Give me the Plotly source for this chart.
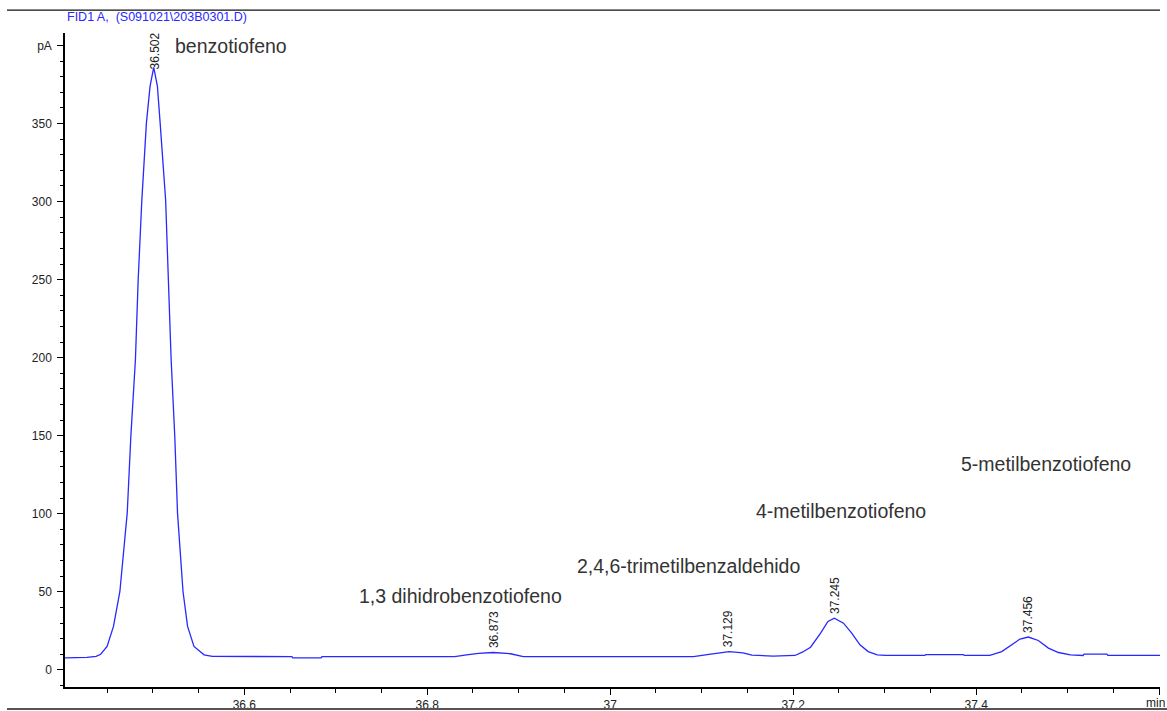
import plotly.graph_objects as go

# Chromatogram trace (time in min, signal in pA)
time_min = [
    36.404, 36.427, 36.428, 36.438, 36.443, 36.450, 36.457, 36.464, 36.472, 36.476,
    36.481, 36.484, 36.488, 36.493, 36.497, 36.501, 36.505, 36.508, 36.514, 36.517,
    36.520, 36.524, 36.527, 36.533, 36.538, 36.545, 36.556, 36.565, 36.652, 36.653,
    36.684, 36.685, 36.830, 36.843, 36.856, 36.872, 36.891, 36.905, 37.091, 37.106,
    37.124, 37.130, 37.145, 37.155, 37.178, 37.202, 37.210, 37.219, 37.230, 37.238,
    37.245, 37.255, 37.264, 37.273, 37.282, 37.292, 37.301, 37.344, 37.345, 37.386,
    37.387, 37.415, 37.428, 37.439, 37.448, 37.457, 37.468, 37.479, 37.490, 37.503,
    37.517, 37.518, 37.543, 37.544, 37.601,
]
signal_pA = [
    7.7, 7.7, 8.0, 8.6, 10.0, 15.0, 27.8, 50.2, 100.4, 149.6,
    199.0, 250.0, 301.0, 350.4, 374.0, 386.0, 374.0, 350.4, 301.0, 250.0,
    199.0, 149.6, 100.4, 50.2, 27.8, 15.0, 9.6, 8.6, 8.5, 7.6,
    7.6, 8.5, 8.5, 9.6, 10.5, 11.1, 10.3, 8.5, 8.5, 9.8,
    11.5, 11.7, 10.9, 9.4, 8.8, 9.2, 11.3, 14.5, 23.5, 31.0,
    33.1, 29.9, 23.5, 16.0, 11.7, 9.6, 9.2, 9.2, 9.8, 9.8,
    9.2, 9.3, 11.7, 16.0, 19.7, 21.0, 18.8, 13.9, 11.1, 9.6,
    9.2, 10.0, 10.0, 9.2, 9.2,
]

# Peak retention times and apex heights
peak_rt = ["36.502", "36.873", "37.129", "37.245", "37.456"]
peak_x = [36.502, 36.873, 37.129, 37.245, 37.456]
peak_y = [386.0, 11.1, 11.7, 33.1, 21.0]

# Compound names
compounds = ["benzotiofeno", "1,3 dihidrobenzotiofeno", "2,4,6-trimetilbenzaldehido",
             "4-metilbenzotiofeno", "5-metilbenzotiofeno"]

x_tickvals = [36.6, 36.8, 37.0, 37.2, 37.4, 37.6]
x_ticktext = ["36.6", "36.8", "37", "37.2", "37.4", ""]
x_unit = "min"
y_tickvals = [0, 50, 100, 150, 200, 250, 300, 350, 400]
y_ticktext = ["0", "50", "100", "150", "200", "250", "300", "350", "pA"]

FONT = "Arial, Liberation Sans, sans-serif"

fig = go.Figure()
fig.add_trace(go.Scatter(x=time_min, y=signal_pA, mode="lines",
                         line=dict(color="rgb(40,40,255)", width=1.3),
                         hoverinfo="skip", showlegend=False))

annotations = []
# Retention time labels (vertical)
for i, (lab, px, py) in enumerate(zip(peak_rt, peak_x, peak_y)):
    annotations.append(dict(x=px, y=py, xref="x", yref="y", text=lab, showarrow=False,
                            textangle=-90, xanchor="center", yanchor="bottom",
                            yshift=(-4 if i == 0 else 2),
                            font=dict(family=FONT, size=12, color="#222222")))

# Compound names
name_pos = [(36.5257, 399.4), (36.7268, 47.4), (36.965, 66.7), (37.1607, 101.9), (37.3847, 132.0)]
for name, (nx, ny) in zip(compounds, name_pos):
    annotations.append(dict(x=nx, y=ny, xref="x", yref="y", text=name, showarrow=False,
                            xanchor="left", yanchor="middle", xshift=-3,
                            font=dict(family=FONT, size=19.5, color="#333333")))

# Axis unit at the end of the time axis
annotations.append(dict(x=1.0064, y=-0.0245, xref="paper", yref="paper", text=x_unit,
                        showarrow=False, xanchor="right", yanchor="middle",
                        font=dict(family=FONT, size=12, color="#222222")))

# Header
annotations.append(dict(x=0.0, y=1.0245, xref="paper", yref="paper",
                        text="FID1 A,  (S091021\\203B0301.D)", showarrow=False,
                        xanchor="left", yanchor="middle",
                        font=dict(family=FONT, size=12.5, color="rgb(40,40,255)")))

shapes = [
    dict(type="line", xref="paper", yref="paper", x0=-0.053, x1=1.0, y0=1.035, y1=1.035,
         line=dict(color="#111111", width=1.2)),
    dict(type="line", xref="paper", yref="paper", x0=-0.053, x1=1.0064, y0=-0.0336, y1=-0.0336,
         line=dict(color="#555555", width=2)),
]

fig.update_layout(
    width=1167, height=711,
    margin=dict(l=65, r=7, t=33, b=24, autoexpand=False),
    paper_bgcolor="white", plot_bgcolor="white",
    font=dict(family=FONT, size=12, color="#222222"),
    annotations=annotations, shapes=shapes,
    xaxis=dict(range=[36.404, 37.601], tickmode="array", tickvals=x_tickvals, ticktext=x_ticktext,
               automargin=False,
               showgrid=False, zeroline=False, showline=True, linecolor="black", linewidth=1.5,
               ticks="outside", ticklen=6, tickcolor="black", tickwidth=1,
               tickfont=dict(family=FONT, size=12, color="#222222"),
               minor=dict(tick0=36.4, dtick=0.05, ticks="outside", ticklen=4,
                          tickcolor="black", showgrid=False)),
    yaxis=dict(range=[-11, 408], tickmode="array", tickvals=y_tickvals, ticktext=y_ticktext,
               automargin=False, ticklabelstandoff=3,
               showgrid=False, zeroline=False, showline=True, linecolor="black", linewidth=1.5,
               ticks="outside", ticklen=6, tickcolor="black", tickwidth=1,
               tickfont=dict(family=FONT, size=12, color="#222222"),
               minor=dict(tick0=0, dtick=10, ticks="outside", ticklen=3,
                          tickcolor="black", showgrid=False)),
)

fig.write_html("out.html")
